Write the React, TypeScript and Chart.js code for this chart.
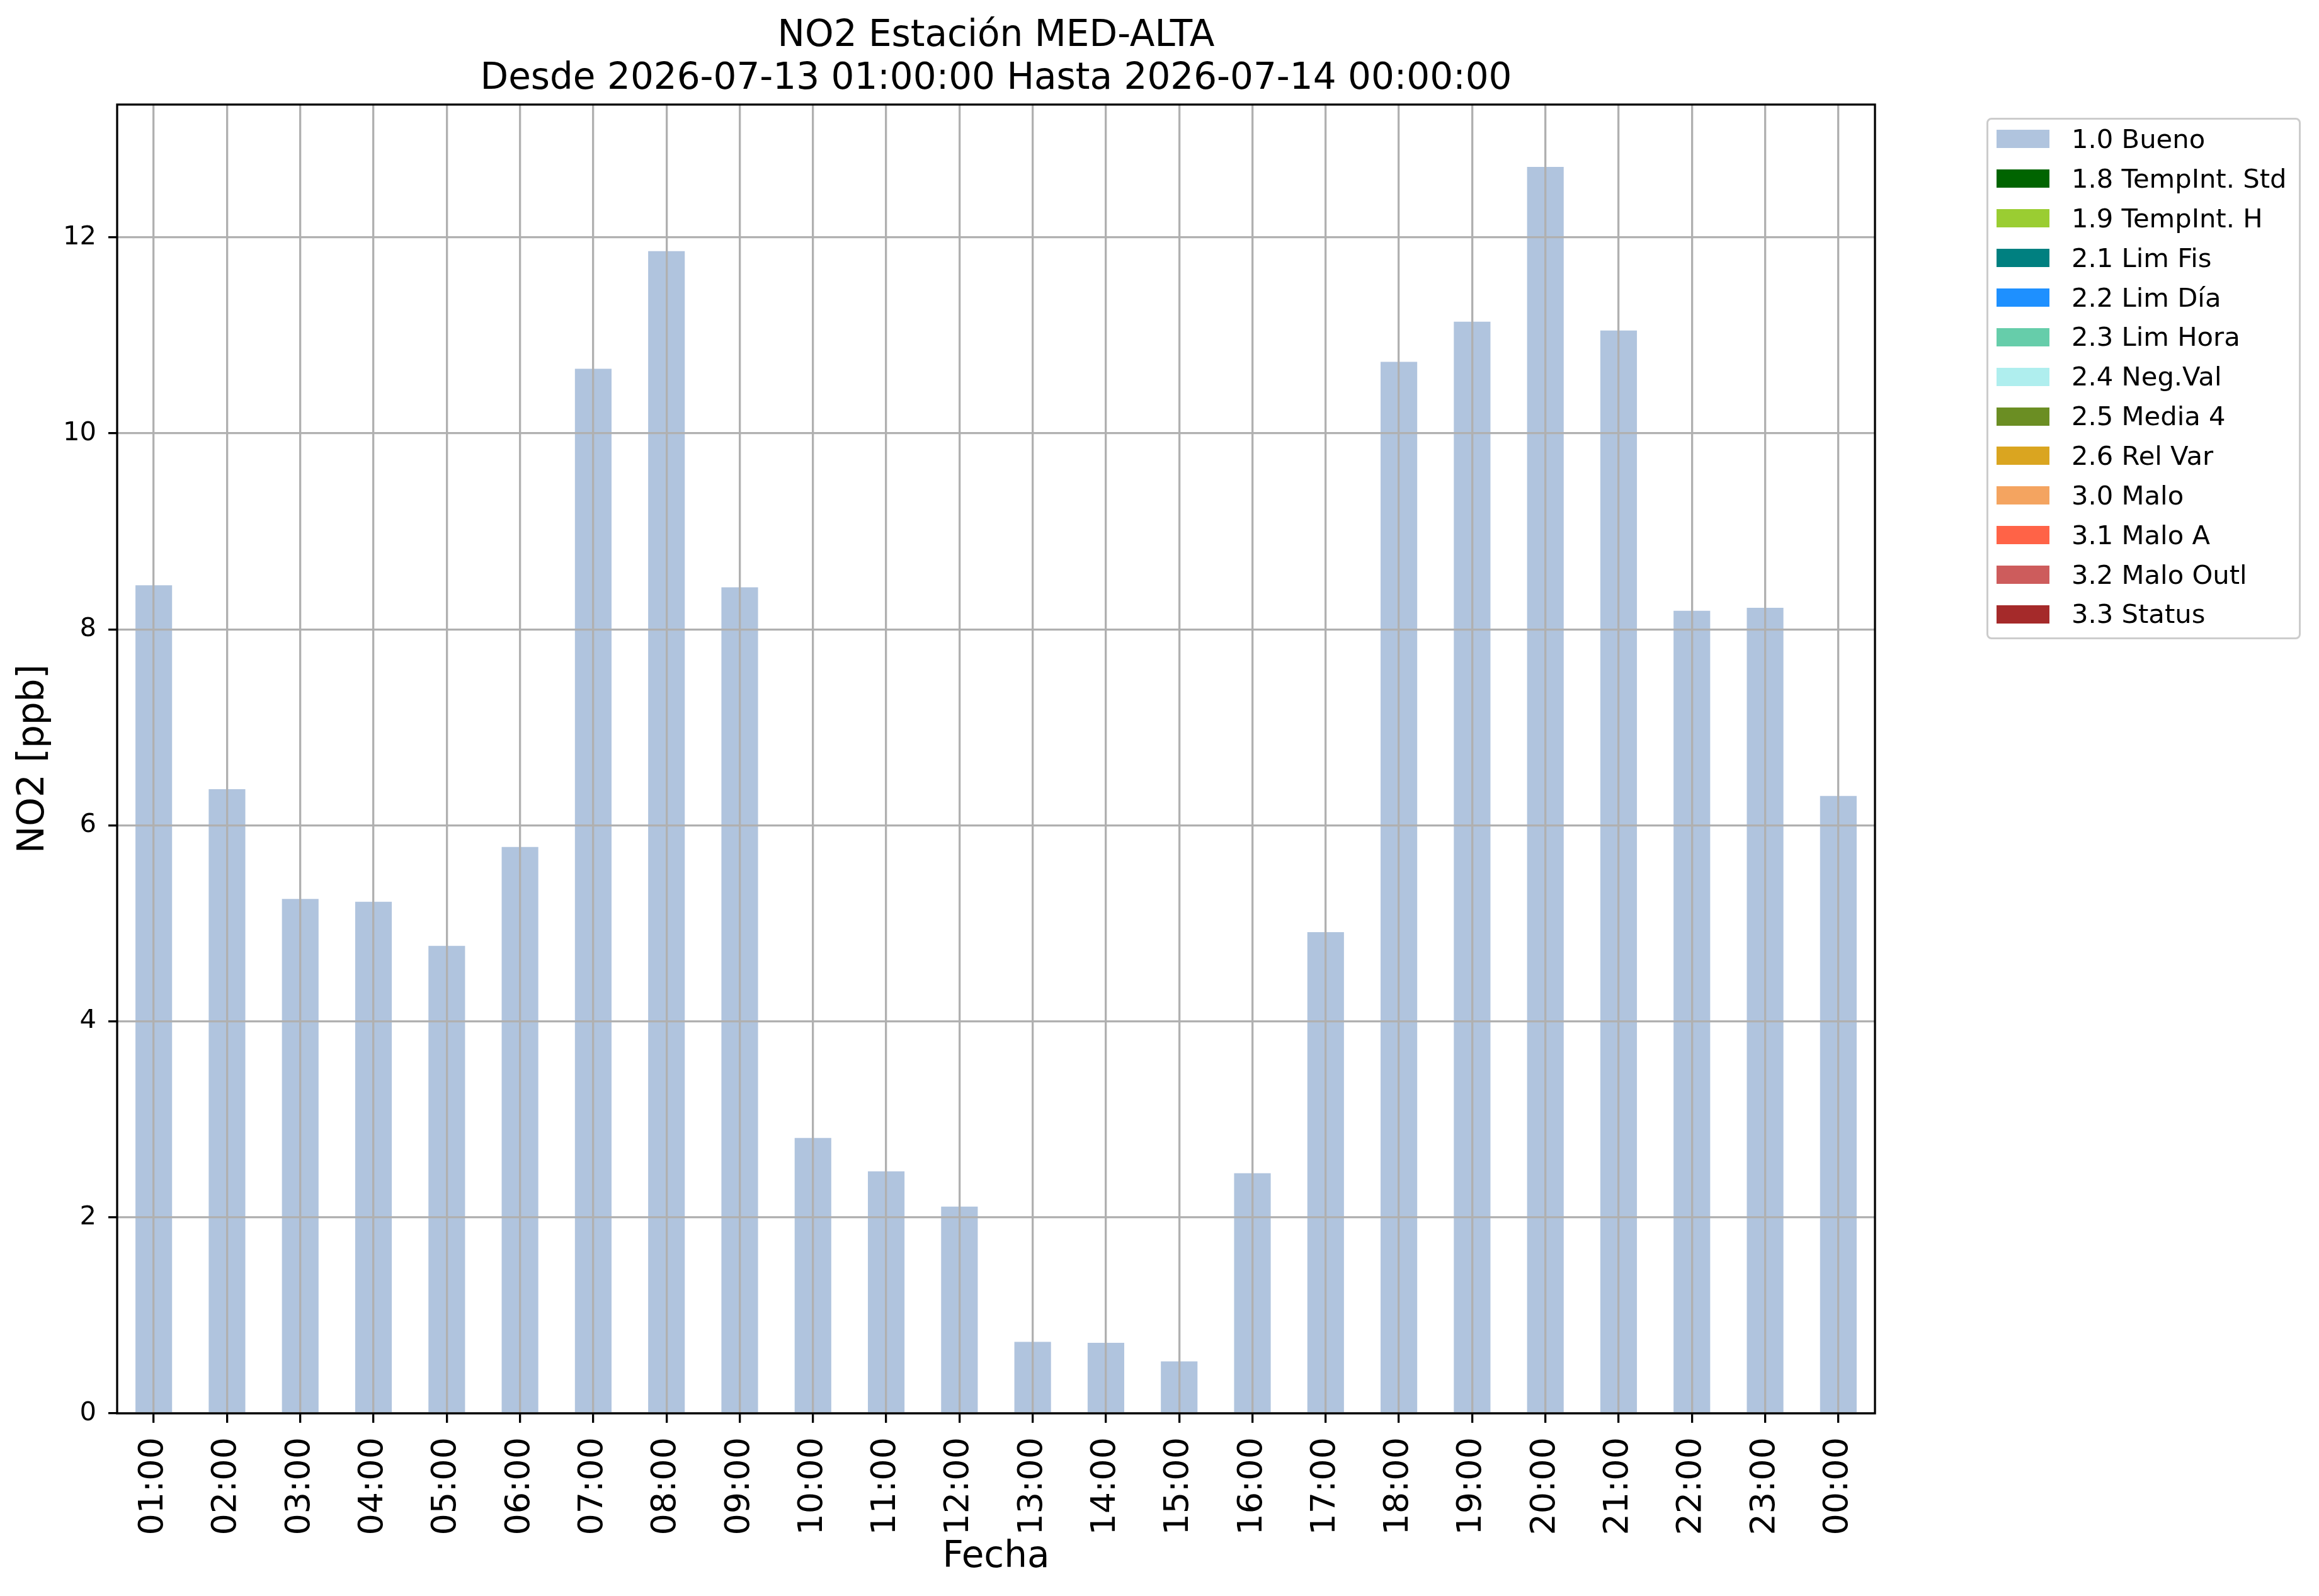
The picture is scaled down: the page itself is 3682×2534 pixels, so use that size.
import { useEffect, useRef } from "react"
import { Chart, registerables } from "chart.js"

Chart.register(...registerables)

// hourly NO2 values, 2026-07-13 01:00 .. 2026-07-14 00:00
const hourLabels = [
  "01:00", "02:00", "03:00", "04:00", "05:00", "06:00", "07:00", "08:00",
  "09:00", "10:00", "11:00", "12:00", "13:00", "14:00", "15:00", "16:00",
  "17:00", "18:00", "19:00", "20:00", "21:00", "22:00", "23:00", "00:00",
]

const no2Values = [
  8.45, 6.37, 5.25, 5.22, 4.77, 5.78, 10.66, 11.86,
  8.43, 2.81, 2.47, 2.11, 0.73, 0.72, 0.53, 2.45,
  4.91, 10.73, 11.14, 12.72, 11.05, 8.19, 8.22, 6.30,
]

// quality flag of each hour (all valid here)
const qualityFlags = hourLabels.map(() => "1.0 Bueno")

const flagLabels = [
  "1.0 Bueno", "1.8 TempInt. Std", "1.9 TempInt. H", "2.1 Lim Fis",
  "2.2 Lim Día", "2.3 Lim Hora", "2.4 Neg.Val", "2.5 Media 4",
  "2.6 Rel Var", "3.0 Malo", "3.1 Malo A", "3.2 Malo Outl", "3.3 Status",
]

const flagColors = [
  "#b0c4de", "#006400", "#9acd32", "#008080",
  "#1e90ff", "#66cdaa", "#afeeee", "#6b8e23",
  "#daa520", "#f4a460", "#ff6347", "#cd5c5c", "#a52a2a",
]

const yTicks = [0, 2, 4, 6, 8, 10, 12]

const FONT = "'DejaVu Sans', sans-serif"
const W = 3682
const H = 2534

// draws the full black frame round the plot area, on top of everything
const framePlugin = {
  id: "axesFrame",
  afterDraw(chart: Chart) {
    const { ctx, chartArea } = chart
    ctx.save()
    ctx.strokeStyle = "#000"
    ctx.lineWidth = 3.3
    ctx.strokeRect(chartArea.left, chartArea.top, chartArea.right - chartArea.left, chartArea.bottom - chartArea.top)
    ctx.restore()
  },
}

function NO2Chart() {
  const chartRef = useRef<HTMLCanvasElement>(null)
  const chartInstance = useRef<Chart | null>(null)

  useEffect(() => {
    if (!chartRef.current) return
    if (chartInstance.current) chartInstance.current.destroy()

    const ctx = chartRef.current.getContext("2d")
    if (!ctx) return

    const datasets = flagLabels.map((flag, k) => ({
      label: flag,
      data: no2Values.map((v, i) => (qualityFlags[i] === flag ? v : null)),
      backgroundColor: flagColors[k],
      borderWidth: 0,
      barPercentage: 0.5,
      categoryPercentage: 1.0,
    }))

    const yMax = Math.max(...no2Values) * 1.05

    chartInstance.current = new Chart(ctx, {
      type: "bar",
      data: { labels: hourLabels, datasets },
      plugins: [framePlugin],
      options: {
        animation: false,
        responsive: true,
        maintainAspectRatio: false,
        devicePixelRatio: 1,
        layout: { padding: { left: 0, right: 705, top: 0, bottom: 0 } },
        plugins: {
          legend: { display: false },
          tooltip: { enabled: false },
          title: {
            display: true,
            fullSize: false,
            text: ["NO2 Estación MED-ALTA", "Desde 2026-07-13 01:00:00 Hasta 2026-07-14 00:00:00"],
            color: "#000",
            font: { family: FONT, size: 58, weight: "normal", lineHeight: 68 / 58 },
            padding: { top: 24, bottom: 6 },
          },
        },
        scales: {
          x: {
            stacked: true,
            offset: true,
            grid: {
              offset: false,
              color: "#b0b0b0",
              lineWidth: 3.3,
              tickColor: "#000",
              tickWidth: 3.3,
              tickLength: 15,
              z: 1,
            },
            border: { display: false },
            ticks: {
              color: "#000",
              font: { family: FONT, size: 54 },
              padding: 23,
              autoSkip: false,
              minRotation: 90,
              maxRotation: 90,
            },
            title: {
              display: true,
              text: "Fecha",
              color: "#000",
              font: { family: FONT, size: 58 },
              padding: { top: 0, bottom: 26 },
            },
            afterFit: (scale: any) => {
              scale.height = 290
            },
          },
          y: {
            stacked: true,
            min: 0,
            max: yMax,
            grid: {
              color: "#b0b0b0",
              lineWidth: 3.3,
              tickColor: "#000",
              tickWidth: 3.3,
              tickLength: 14,
              z: 1,
            },
            border: { display: false },
            afterBuildTicks: (scale: any) => {
              scale.ticks = yTicks.map((value) => ({ value }))
            },
            ticks: {
              color: "#000",
              font: { family: FONT, size: 41.7 },
              padding: 19,
            },
            title: {
              display: true,
              text: "NO2 [ppb]",
              color: "#000",
              font: { family: FONT, size: 58 },
              padding: { top: 19, bottom: 0 },
            },
            afterFit: (scale: any) => {
              scale.width = 186
            },
          },
        },
      },
    })

    return () => {
      if (chartInstance.current) {
        chartInstance.current.destroy()
        chartInstance.current = null
      }
    }
  }, [])

  return <canvas ref={chartRef} />
}

function Legend() {
  const rowStep = 62.86
  const firstCenter = 221
  return (
    <>
      <div
        style={{
          position: "absolute",
          left: 3154,
          top: 187,
          width: 499,
          height: 828,
          boxSizing: "border-box",
          border: "3.3px solid #cccccc",
          borderRadius: 8,
          background: "rgba(255,255,255,0.8)",
        }}
      />
      {flagLabels.map((label, i) => (
        <div
          key={label}
          style={{
            position: "absolute",
            left: 3170,
            top: firstCenter + i * rowStep - rowStep / 2,
            height: rowStep,
            display: "flex",
            alignItems: "center",
            whiteSpace: "nowrap",
          }}
        >
          <div style={{ width: 84, height: 29, background: flagColors[i] }} />
          <span style={{ marginLeft: 35, fontFamily: FONT, fontSize: 41.7, color: "#000", lineHeight: 1 }}>
            {label}
          </span>
        </div>
      ))}
    </>
  )
}

export default function App() {
  return (
    <div style={{ position: "absolute", left: 0, top: 0, width: W, height: H, background: "#fff" }}>
      <div style={{ position: "absolute", left: 0, top: 0, width: W, height: H }}>
        <NO2Chart />
      </div>
      <Legend />
    </div>
  )
}
